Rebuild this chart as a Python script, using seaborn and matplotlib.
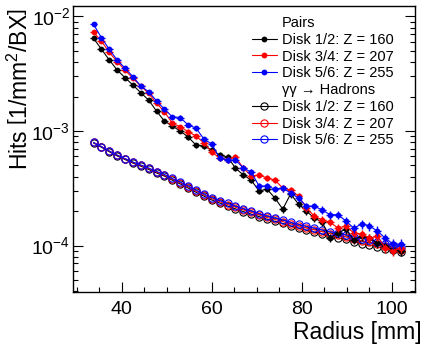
import numpy as np
import pandas as pd
import matplotlib
matplotlib.use("Agg")
import matplotlib.pyplot as plt
import seaborn as sns
from matplotlib.lines import Line2D
from matplotlib.ticker import MultipleLocator, LogLocator, NullFormatter

# ---------------- data ----------------
radius = [33.75, 35.5, 37.25, 39.0, 40.75, 42.5, 44.25, 46.0, 47.75, 49.5,
          51.25, 53.0, 54.75, 56.5, 58.25, 60.0, 61.75, 63.5, 65.25, 67.0,
          68.75, 70.5, 72.25, 74.0, 75.75, 77.5, 79.25, 81.0, 82.75, 84.5,
          86.25, 88.0, 89.75, 91.5, 93.25, 95.0, 96.75, 98.5, 100.25, 102.0]
bin_half_width = 0.875

pairs_d12 = [6.45e-3, 5.19e-3, 4.17e-3, 3.41e-3, 2.92e-3, 2.52e-3, 2.16e-3, 1.86e-3, 1.49e-3, 1.22e-3,
             1.105e-3, 1.00e-3, 8.86e-4, 7.54e-4, 7.40e-4, 6.82e-4, 6.17e-4, 5.93e-4, 4.75e-4, 4.13e-4,
             3.73e-4, 2.99e-4, 3.11e-4, 2.60e-4, 2.08e-4, 2.82e-4, 2.30e-4, 2.00e-4, 1.74e-4, 1.60e-4,
             1.16e-4, 1.29e-4, 1.39e-4, 1.12e-4, 1.21e-4, 1.16e-4, 1.05e-4, 9.9e-5, 9.14e-5, 8.95e-5]
pairs_d34 = [7.28e-3, 6.11e-3, 4.86e-3, 4.03e-3, 3.41e-3, 2.88e-3, 2.47e-3, 2.13e-3, 1.75e-3, 1.47e-3,
             1.17e-3, 1.09e-3, 9.86e-4, 9.04e-4, 7.86e-4, 6.55e-4, 5.81e-4, 5.58e-4, 5.93e-4, 4.75e-4,
             4.05e-4, 4.13e-4, 3.89e-4, 3.73e-4, 3.18e-4, 3.05e-4, 2.71e-4, 2.13e-4, 1.81e-4, 1.67e-4,
             1.60e-4, 1.42e-4, 1.48e-4, 1.29e-4, 1.26e-4, 1.16e-4, 1.21e-4, 9.51e-5, 8.95e-5, 9.51e-5]
pairs_d56 = [8.55e-3, 6.53e-3, 5.17e-3, 4.17e-3, 3.53e-3, 2.98e-3, 2.47e-3, 2.20e-3, 1.83e-3, 1.55e-3,
             1.33e-3, 1.31e-3, 1.13e-3, 1.06e-3, 8.51e-4, 7.70e-4, 5.81e-4, 5.58e-4, 5.58e-4, 4.75e-4,
             4.38e-4, 3.31e-4, 3.31e-4, 3.11e-4, 3.18e-4, 2.87e-4, 2.60e-4, 2.21e-4, 2.21e-4, 2.04e-4,
             1.86e-4, 1.86e-4, 1.64e-4, 1.42e-4, 1.54e-4, 1.48e-4, 1.34e-4, 1.16e-4, 1.03e-4, 1.03e-4]
pairs_rel_err = [0.03, 0.03, 0.03, 0.035, 0.035, 0.035, 0.04, 0.04, 0.04, 0.045,
                 0.045, 0.045, 0.05, 0.05, 0.05, 0.055, 0.055, 0.055, 0.06, 0.06,
                 0.06, 0.065, 0.065, 0.065, 0.07, 0.07, 0.07, 0.075, 0.075, 0.075,
                 0.08, 0.08, 0.085, 0.085, 0.09, 0.09, 0.095, 0.095, 0.10, 0.10]

had_d12 = [7.86e-4, 7.23e-4, 6.59e-4, 6.06e-4, 5.64e-4, 5.24e-4, 4.93e-4, 4.62e-4, 4.30e-4, 4.04e-4,
           3.72e-4, 3.45e-4, 3.18e-4, 2.92e-4, 2.70e-4, 2.50e-4, 2.35e-4, 2.21e-4, 2.09e-4, 1.98e-4,
           1.88e-4, 1.79e-4, 1.70e-4, 1.63e-4, 1.56e-4, 1.48e-4, 1.42e-4, 1.36e-4, 1.31e-4, 1.26e-4,
           1.21e-4, 1.17e-4, 1.13e-4, 1.08e-4, 1.04e-4, 1.01e-4, 9.76e-5, 9.37e-5, 9.08e-5, 8.70e-5]
had_d34 = [7.94e-4, 7.31e-4, 6.67e-4, 6.15e-4, 5.72e-4, 5.33e-4, 5.01e-4, 4.71e-4, 4.38e-4, 4.12e-4,
           3.80e-4, 3.53e-4, 3.26e-4, 3.00e-4, 2.77e-4, 2.57e-4, 2.42e-4, 2.28e-4, 2.16e-4, 2.05e-4,
           1.95e-4, 1.85e-4, 1.76e-4, 1.69e-4, 1.62e-4, 1.54e-4, 1.48e-4, 1.42e-4, 1.37e-4, 1.32e-4,
           1.27e-4, 1.23e-4, 1.19e-4, 1.14e-4, 1.10e-4, 1.07e-4, 1.03e-4, 9.9e-5, 9.6e-5, 9.2e-5]
had_d56 = [7.94e-4, 7.32e-4, 6.69e-4, 6.17e-4, 5.75e-4, 5.36e-4, 5.05e-4, 4.75e-4, 4.43e-4, 4.17e-4,
           3.85e-4, 3.58e-4, 3.31e-4, 3.05e-4, 2.82e-4, 2.62e-4, 2.47e-4, 2.33e-4, 2.21e-4, 2.10e-4,
           2.00e-4, 1.90e-4, 1.81e-4, 1.74e-4, 1.67e-4, 1.59e-4, 1.53e-4, 1.47e-4, 1.42e-4, 1.37e-4,
           1.32e-4, 1.28e-4, 1.24e-4, 1.19e-4, 1.15e-4, 1.12e-4, 1.08e-4, 1.04e-4, 1.01e-4, 9.7e-5]

disk_labels = ["Disk 1/2: Z = 160", "Disk 3/4: Z = 207", "Disk 5/6: Z = 255"]
header_pairs = "Pairs"
header_had = "γγ → Hadrons"
x_title = "Radius [mm]"
y_title = r"Hits $\left[1/\mathrm{mm}^{2}/\mathrm{BX}\right]$"

# ---------------- style ----------------
sns.set_theme(style="white")
plt.rcParams["font.family"] = ["Liberation Sans", "DejaVu Sans"]
plt.rcParams["mathtext.fontset"] = "custom"
plt.rcParams["mathtext.rm"] = "Liberation Sans"
plt.rcParams["mathtext.it"] = "Liberation Sans:italic"
plt.rcParams["mathtext.bf"] = "Liberation Sans:bold"
plt.rcParams["text.color"] = "black"
plt.rcParams["axes.edgecolor"] = "black"

W, H = 425, 346
fig = plt.figure(figsize=(W / 100, H / 100), dpi=100)
ax = fig.add_axes([73 / W, 1 - 292 / H, (415 - 73) / W, (292 - 5.7) / H])

colors = ["#000000", "#ff0000", "#0000ff"]
pairs = [pairs_d12, pairs_d34, pairs_d56]
hadrons = [had_d12, had_d34, had_d56]

for i in range(3):
    df = pd.DataFrame({"radius": radius, "hits": hadrons[i]})
    sns.lineplot(data=df, x="radius", y="hits", ax=ax, color=colors[i], linewidth=0.8,
                 marker="o", markersize=5.2, markerfacecolor="none",
                 markeredgecolor=colors[i], markeredgewidth=0.8,
                 estimator=None, sort=False, legend=False, zorder=3 + i)

for i in range(3):
    y = np.array(pairs[i])
    yerr = y * np.array(pairs_rel_err)
    ax.errorbar(radius, y, xerr=bin_half_width, yerr=yerr, fmt="none",
                ecolor=colors[i], elinewidth=1.0, capsize=0, zorder=6 + i)
    df = pd.DataFrame({"radius": radius, "hits": pairs[i]})
    sns.lineplot(data=df, x="radius", y="hits", ax=ax, color=colors[i], linewidth=0.8,
                 marker="o", markersize=4.2, markeredgewidth=0,
                 estimator=None, sort=False, legend=False, zorder=6 + i)

ax.set_yscale("log")
ax.set_xlim(29.2, 105.1)
ax.set_ylim(3.93e-5, 1.242e-2)
ax.set_xlabel("")
ax.set_ylabel("")

ax.xaxis.set_major_locator(MultipleLocator(20))
ax.xaxis.set_minor_locator(MultipleLocator(5))
ax.yaxis.set_major_locator(LogLocator(base=10, numticks=10))
ax.yaxis.set_minor_locator(LogLocator(base=10, subs=np.arange(2, 10), numticks=10))
ax.yaxis.set_minor_formatter(NullFormatter())

ax.tick_params(which="both", direction="in", left=True, right=True, bottom=True, top=False,
               colors="black", width=0.8)
ax.tick_params(which="major", length=7)
ax.tick_params(which="minor", length=3.5)
ax.tick_params(axis="x", which="major", pad=6.5, labelsize=14)
ax.tick_params(axis="y", which="major", pad=2, labelsize=14)
for s in ax.spines.values():
    s.set_color("black")
    s.set_linewidth(1.0)

fig.text(422 / W, 1 - 333 / H, x_title, ha="right", va="center", fontsize=16.5)
fig.text(20 / W, 1 - 8 / H, y_title, ha="center", va="top", rotation=90, fontsize=16.5)

# legend
blank = Line2D([], [], linestyle="none", marker=None)
handles = [blank]
labels = [header_pairs]
for i in range(3):
    handles.append(Line2D([], [], color=colors[i], linewidth=0.8, marker="o", markersize=4.2,
                          markeredgewidth=0))
    labels.append(disk_labels[i])
handles.append(blank)
labels.append(header_had)
for i in range(3):
    handles.append(Line2D([], [], color=colors[i], linewidth=0.8, marker="o", markersize=5.2,
                          markerfacecolor="none", markeredgecolor=colors[i], markeredgewidth=0.8))
    labels.append(disk_labels[i])

leg = ax.legend(handles, labels, loc="upper left", bbox_to_anchor=(252 / W, 1 - 16 / H),
                bbox_transform=fig.transFigure, frameon=False, fontsize=10.5,
                handlelength=1.7, handletextpad=0.35, labelspacing=0.19,
                borderpad=0, borderaxespad=0)

fig.savefig("out.png", dpi=100)
